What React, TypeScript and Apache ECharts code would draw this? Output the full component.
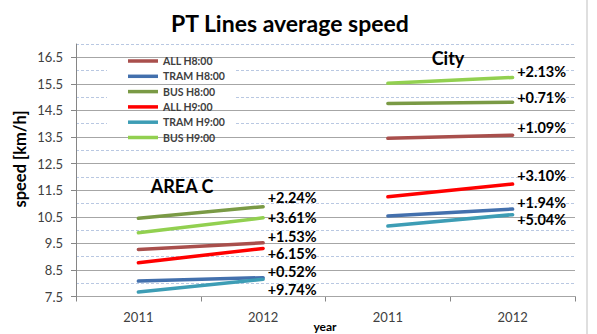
import React, { useEffect, useRef } from "react";
import * as echarts from "echarts";

const categories = ["2011", "2012", "2011", "2012"];
const seriesNames = ["ALL H8:00", "TRAM H8:00", "BUS H8:00", "ALL H9:00", "TRAM H9:00", "BUS H9:00"];
const seriesColors = ["#a94f4c", "#4370ad", "#7a9a45", "#ff0000", "#3d9db5", "#92d050"];

// values: [Area C 2011, Area C 2012, City 2011, City 2012]
const allH8 = [9.27, 9.52, 13.45, 13.57];
const tramH8 = [8.08, 8.21, 10.53, 10.79];
const busH8 = [10.44, 10.88, 14.76, 14.81];
const allH9 = [8.77, 9.31, 11.25, 11.73];
const tramH9 = [7.67, 8.15, 10.15, 10.58];
const busH9 = [9.9, 10.46, 15.52, 15.74];

const areaCChange = ["+1.53%", "+0.52%", "+2.24%", "+6.15%", "+9.74%", "+3.61%"];
const cityChange = ["+1.09%", "+1.94%", "+0.71%", "+3.10%", "+5.04%", "+2.13%"];

const yTicks = { min: 7.5, max: 17, interval: 1 };

// vertical nudges of the change labels (px)
const areaCLabelDy = [-6, -6, -9, 5, 10, 0];
const cityLabelDy = [-8, -7, -5, -9, 5, -6];

const FONT = "Lato";

export default function App() {
  const ref = useRef<HTMLDivElement>(null);

  useEffect(() => {
    if (!ref.current) return;
    const chart = echarts.init(ref.current, null, { renderer: "svg" });
    const allData = [allH8, tramH8, busH8, allH9, tramH9, busH9];

    const series: any[] = [];
    allData.forEach((vals, i) => {
      const labelCfg = (text: string, dy: number) => ({
        show: true,
        position: "right",
        distance: 4,
        offset: [0, dy],
        formatter: text,
        color: "#000",
        fontFamily: FONT,
        fontWeight: "bold",
        fontSize: 14.5,
        lineHeight: 12,
      });
      const base = {
        type: "line",
        name: seriesNames[i],
        symbol: "circle",
        symbolSize: 1,
        showSymbol: true,
        yAxisIndex: 0,
        z: 3,
        connectNulls: false,
        lineStyle: { color: seriesColors[i], width: 3.5, cap: "round" },
        itemStyle: { color: seriesColors[i] },
        label: { show: false },
      };
      series.push({
        ...base,
        data: [
          vals[0],
          { value: vals[1], label: labelCfg(areaCChange[i], areaCLabelDy[i]) },
          "-",
          "-",
        ],
      });
      series.push({
        ...base,
        data: [
          "-",
          "-",
          vals[2],
          { value: vals[3], label: labelCfg(cityChange[i], cityLabelDy[i]) },
        ],
      });
    });

    chart.setOption({
      animation: false,
      backgroundColor: "#ffffff",
      title: {
        text: "PT Lines average speed",
        left: 166,
        top: 6,
        textStyle: { fontFamily: FONT, fontWeight: "bold", fontSize: 23, color: "#000" },
      },
      legend: {
        data: seriesNames,
        orient: "vertical",
        left: 123,
        top: 50,
        icon: "rect",
        itemWidth: 30,
        itemHeight: 3.5,
        itemGap: 3.3,
        z: 5,
        textStyle: {
          fontFamily: FONT,
          fontWeight: "bold",
          fontSize: 10.5,
          lineHeight: 12,
          color: "#404040",
        },
      },
      grid: { left: 76, right: 22, top: 44, bottom: 37.5, outerBoundsMode: "none" },
      xAxis: {
        type: "category",
        data: categories,
        boundaryGap: true,
        axisLine: { lineStyle: { color: "#868686", width: 1 } },
        axisTick: { show: true, length: 5, lineStyle: { color: "#868686" } },
        axisLabel: { fontFamily: FONT, fontSize: 13, color: "#404040", margin: 14 },
        splitLine: { show: false },
      },
      yAxis: [
        {
          type: "value",
          min: yTicks.min,
          max: yTicks.max,
          interval: yTicks.interval,
          z: 2,
          axisLine: { show: true, lineStyle: { color: "#868686", width: 1 } },
          axisTick: { show: true, length: 5, lineStyle: { color: "#868686" } },
          axisLabel: {
            fontFamily: FONT,
            fontSize: 13,
            color: "#404040",
            margin: 13,
            showMaxLabel: false,
            formatter: (v: number) => v.toFixed(1),
          },
          splitLine: {
            show: true,
            showMaxLine: false,
            lineStyle: { color: "#a6a6a6", width: 1, type: "solid" },
          },
        },
        {
          type: "value",
          min: yTicks.min,
          max: yTicks.max,
          interval: yTicks.interval / 2,
          z: 0,
          axisLine: { show: false },
          axisTick: { show: false },
          axisLabel: { show: false },
          splitLine: {
            show: true,
            lineStyle: { color: "#b9c8e2", width: 1, type: [3, 2] },
          },
        },
      ],
      graphic: [
        {
          type: "rect",
          z: 1,
          shape: { x: 107, y: 50, width: 129, height: 92 },
          style: { fill: "#ffffff" },
        },
        {
          type: "text",
          z: 4,
          x: 182,
          y: 186,
          style: {
            text: "AREA C",
            fontFamily: FONT,
            fontWeight: "bold",
            fontSize: 18,
            fill: "#000",
            align: "center",
            verticalAlign: "middle",
          },
        },
        {
          type: "text",
          z: 4,
          x: 448,
          y: 58,
          style: {
            text: "City",
            fontFamily: FONT,
            fontWeight: "bold",
            fontSize: 18,
            fill: "#000",
            align: "center",
            verticalAlign: "middle",
          },
        },
        {
          type: "text",
          z: 4,
          x: 20,
          y: 159,
          rotation: Math.PI / 2,
          style: {
            text: "speed [km/h]",
            fontFamily: FONT,
            fontWeight: "bold",
            fontSize: 16.5,
            fill: "#000",
            align: "center",
            verticalAlign: "middle",
          },
        },
        {
          type: "text",
          z: 4,
          x: 325,
          y: 326,
          style: {
            text: "year",
            fontFamily: FONT,
            fontWeight: "bold",
            fontSize: 12,
            fill: "#000",
            align: "center",
            verticalAlign: "middle",
          },
        },
        {
          type: "line",
          z: 4,
          shape: { x1: 587, y1: 0, x2: 587, y2: 334 },
          style: { stroke: "#bfbfbf", lineWidth: 1 },
        },
      ],
      series,
    });

    return () => chart.dispose();
  }, []);

  return (
    <div
      ref={ref}
      style={{ position: "fixed", left: 0, top: 0, width: 597, height: 334 }}
    />
  );
}
